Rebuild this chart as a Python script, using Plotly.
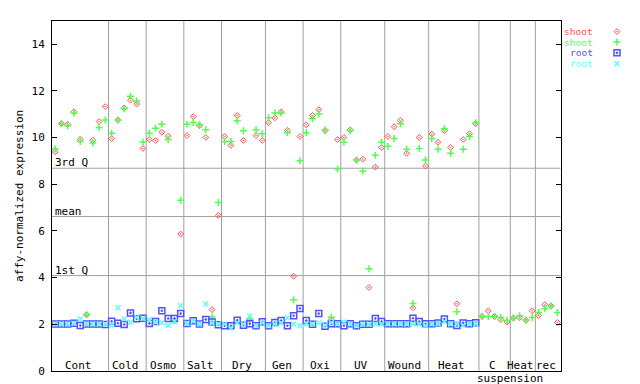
import plotly.graph_objects as go

W, H = 640, 384
FONT = "DejaVu Sans Mono"

# ---------------- data ----------------
group_names = ["Cont", "Cold", "Osmo", "Salt", "Dry", "Gen", "Oxi", "UV",
               "Wound", "Heat", "C", "Heat", "rec"]
group_sizes = [9, 6, 6, 6, 7, 6, 6, 7, 7, 8, 5, 4, 4]

shoot_red = [9.38, 10.59, 10.56, 11.10, 9.92, 2.40, 9.88, 10.68, 11.32,
             9.95, 10.75, 11.27, 11.60, 11.43, 9.53,
             9.91, 9.87, 10.22, 10.05, 2.15, 5.86,
             10.08, 10.89, 10.50, 10.00, 2.62, 6.66,
             10.04, 9.66, 10.94, 9.87, 2.22, 10.08, 9.87,
             10.63, 10.84, 11.10, 10.30, 4.05, 10.04,
             10.54, 10.94, 11.19, 10.29, 2.18, 9.91,
             10.00, 10.33, 9.03, 9.07, 3.57, 8.73, 9.57,
             10.04, 10.46, 10.73, 9.32, 2.70, 10.00, 8.77,
             10.14, 9.79, 10.29, 9.57, 2.87, 9.91, 10.16, 10.59,
             2.33, 2.57, 2.33, 2.19, 2.09,
             2.26, 2.28, 2.16, 2.57,
             2.36, 2.83, 2.78, 2.07]

shoot_green = [9.50, 10.59, 10.50, 11.05, 9.83, 2.40, 9.76, 10.43, 10.75,
               10.18, 10.75, 11.23, 11.77, 11.56, 9.80,
               10.18, 10.39, 10.56, 9.91, 2.15, 7.31,
               10.56, 10.64, 10.54, 10.33, 2.30, 7.21,
               9.83, 9.83, 10.71, 10.29, 2.22, 10.33, 10.16,
               10.84, 11.05, 11.05, 10.20, 3.04, 9.00,
               10.20, 10.80, 11.00, 10.33, 2.29, 8.65,
               9.79, 10.29, 9.03, 8.56, 4.37, 9.24, 9.79,
               9.62, 9.95, 10.59, 9.49, 2.88, 9.53, 9.03,
               9.95, 9.49, 10.37, 9.32, 2.53, 9.49, 10.04, 10.63,
               2.33, 2.33, 2.33, 2.28, 2.15,
               2.26, 2.36, 2.19, 2.28,
               2.50, 2.66, 2.78, 2.50]

root_blue = [2.00, 2.00, 2.00, 2.04, 1.94, 2.00, 2.00, 2.00, 1.98,
             2.12, 2.04, 1.98, 2.48, 2.23, 2.25,
             2.03, 2.11, 2.57, 2.24, 2.24, 2.45,
             2.03, 2.14, 2.00, 2.20, 2.09, 1.97,
             1.93, 1.93, 2.17, 1.95, 2.02, 1.93, 2.10,
             1.93, 2.07, 2.15, 1.93, 2.36, 2.67,
             2.15, 1.99, 2.45, 1.91, 2.01, 2.01,
             1.93, 2.01, 1.93, 1.99, 1.99, 2.24, 2.11,
             2.01, 2.01, 2.01, 2.01, 2.25, 2.11, 2.01,
             2.01, 2.05, 2.22, 2.01, 1.94, 2.05, 2.01, 2.06,
             None, None, None, None, None,
             None, None, None, None,
             None, None, None, None]

root_cyan = [2.00, 2.00, 2.00, 2.04, 2.22, 2.00, 2.00, 2.00, 2.00,
             1.94, 2.70, 2.22, 2.08, 2.29, 2.24,
             2.20, 2.08, 2.06, 1.94, 2.12, 2.80,
             2.03, 2.12, 2.00, 2.86, 2.05, 2.00,
             2.00, 1.83, 2.06, 2.00, 2.35, 1.93, 2.06,
             1.93, 2.00, 2.06, 2.27, 2.00, 1.93,
             2.00, 2.00, 2.06, 1.95, 2.06, 2.00,
             2.09, 2.00, 1.93, 1.99, 1.99, 2.00, 2.01,
             2.01, 2.01, 2.01, 2.01, 2.01, 2.01, 1.94,
             2.01, 2.01, 2.11, 2.01, 2.01, 1.94, 2.01, 2.01,
             None, None, None, None, None,
             None, None, None, None,
             None, None, None, None]

quartile_labels = ["3rd Q", "mean", "1st Q"]
quartile_values = [8.68, 6.61, 4.08]

legend_labels = ["shoot", "shoot", "root", "root"]

# ---------------- style ----------------
RED, GREEN, BLUE, CYAN = "#ff5050", "#50ff50", "#5050ff", "#60ffff"
GRAY = "#a0a0a0"

n = len(shoot_red)
xs = list(range(1, n + 1))

# plot area in pixels
PL, PR, PT, PB = 44, 552.5, 13, 369.5

fig = go.Figure()

series = [
    (shoot_red, RED, "diamond-open-dot", 4.5, 1),
    (shoot_green, GREEN, "cross-thin-open", 5, 1.5),
    (root_blue, BLUE, "square-open-dot", 6, 1.5),
    (root_cyan, CYAN, "x-thin-open", 5, 1.5),
]
for vals, col, sym, sz, lw in series:
    fig.add_trace(go.Scatter(
        x=xs, y=vals, mode="markers", showlegend=False, hoverinfo="skip",
        marker=dict(symbol=sym, size=sz, color=col, line=dict(color=col, width=lw)),
        xaxis="x", yaxis="y"))

# legend markers on a pixel overlay axis
leg_y = [24, 34.7, 45.7, 56.7]
for k, (vals, col, sym, sz, lw) in enumerate(series):
    fig.add_trace(go.Scatter(
        x=[609], y=[leg_y[k]], mode="markers", showlegend=False, hoverinfo="skip",
        marker=dict(symbol=sym, size=sz, color=col, line=dict(color=col, width=lw)),
        xaxis="x2", yaxis="y2"))

shapes = []
annotations = []

# group separators and labels
start = 0.5
for gi, (name, size) in enumerate(zip(group_names, group_sizes)):
    end = start + size
    if gi < len(group_names) - 1:
        shapes.append(dict(type="line", xref="x", yref="y domain", x0=end, x1=end,
                           y0=0, y1=1, line=dict(color=GRAY, width=1), layer="below"))
    annotations.append(dict(text=name, xref="x", yref="paper", x=(start + end) / 2 - 0.3,
                            y=1 - 364.5 / H, xanchor="center", yanchor="middle",
                            showarrow=False, font=dict(family=FONT, size=11, color="black")))
    start = end

annotations.append(dict(text="suspension", xref="paper", yref="paper", x=502 / W,
                        y=1 - 377 / H, xanchor="center", yanchor="middle",
                        showarrow=False, font=dict(family=FONT, size=11, color="black")))

# quartile lines
for lab, v in zip(quartile_labels, quartile_values):
    shapes.append(dict(type="line", xref="x domain", yref="y", x0=0, x1=1, y0=v, y1=v,
                       line=dict(color=GRAY, width=1), layer="below"))
    annotations.append(dict(text=lab, xref="paper", yref="y", x=(PL + 0.5) / W, y=v,
                            xanchor="left", yanchor="bottom", yshift=-3, showarrow=False,
                            font=dict(family=FONT, size=11, color="black")))

# legend text
leg_cols = [RED, GREEN, BLUE, CYAN]
for k, lab in enumerate(legend_labels):
    annotations.append(dict(text=lab, xref="paper", yref="paper", x=586 / W,
                            y=1 - leg_y[k] / H, xanchor="right", yanchor="middle",
                            showarrow=False, borderpad=0,
                            font=dict(family=FONT, size=9.5, color=leg_cols[k])))

# y title
annotations.append(dict(text="affy-normalized expression", xref="paper", yref="paper",
                        x=11.5 / W, y=1 - 192 / H, textangle=-90, xanchor="center",
                        yanchor="middle", showarrow=False,
                        font=dict(family=FONT, size=11, color="black")))

fig.update_layout(
    width=W, height=H,
    margin=dict(l=0, r=0, t=0, b=0),
    paper_bgcolor="white", plot_bgcolor="rgba(0,0,0,0)",
    font=dict(family=FONT, size=11, color="black"),
    xaxis=dict(domain=[PL / W, PR / W], range=[0.5, n + 0.5], showline=True,
               linecolor="black", linewidth=1, mirror=True, showgrid=False,
               zeroline=False, showticklabels=False, ticks=""),
    yaxis=dict(domain=[1 - PB / H, 1 - PT / H], range=[0, 15], showline=True,
               linecolor="black", linewidth=1, mirror="ticks", showgrid=False,
               zeroline=False, ticks="inside", ticklen=5, tickcolor="black",
               tickvals=[0, 2, 4, 6, 8, 10, 12, 14], ticklabelstandoff=4,
               tickfont=dict(family=FONT, size=11, color="black")),
    xaxis2=dict(domain=[0, 1], range=[0, W], visible=False, anchor="y2"),
    yaxis2=dict(domain=[0, 1], range=[H, 0], visible=False, anchor="x2"),
    shapes=shapes, annotations=annotations,
)

fig.write_html("out.html")
